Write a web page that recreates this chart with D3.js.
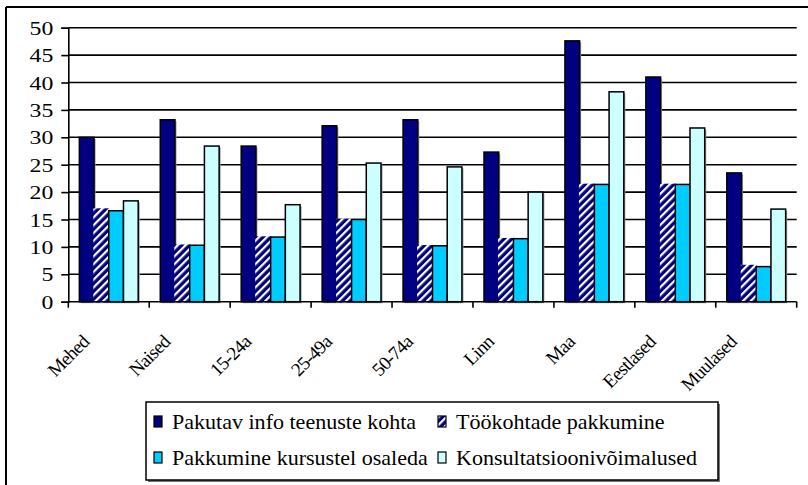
<!doctype html>
<html>
<head>
<meta charset="utf-8">
<title>Teenused</title>
<script src="https://d3js.org/d3.v7.min.js"></script>
<style>
body { margin: 0; background: white; }
svg { display: block; }
svg text { font-family: "Liberation Serif", "DejaVu Serif", serif; }
</style>
</head>
<body>
<div id="chart"></div>
<script>
// data
var categories = ["Mehed", "Naised", "15-24a", "25-49a", "50-74a", "Linn", "Maa", "Eestlased", "Muulased"];
var seriesNames = ["Pakutav info teenuste kohta", "Töökohtade pakkumine", "Pakkumine kursustel osaleda", "Konsultatsioonivõimalused"];
var infoValues = [30.0, 33.2, 28.4, 32.1, 33.2, 27.3, 47.6, 41.0, 23.5];
var tooValues = [16.9, 10.3, 11.8, 15.0, 10.2, 11.5, 21.4, 21.4, 6.6];
var kursusValues = [16.6, 10.3, 11.8, 15.0, 10.2, 11.5, 21.4, 21.4, 6.4];
var konsultValues = [18.4, 28.4, 17.7, 25.3, 24.6, 20.0, 38.3, 31.7, 16.9];
var yTicks = [0, 5, 10, 15, 20, 25, 30, 35, 40, 45, 50];

var seriesValues = [infoValues, tooValues, kursusValues, konsultValues];
var seriesFill = ["#000080", "url(#hatch)", "#00ccff", "#ccffff"];

var W = 808, H = 485;
var margin = {left: 68.3, right: 11.3, top: 27.7, bottom: 183.3};

var svg = d3.select("#chart").append("svg")
  .attr("width", W)
  .attr("height", H);

var defs = svg.append("defs");
var hatch = defs.append("pattern")
  .attr("id", "hatch")
  .attr("patternUnits", "userSpaceOnUse")
  .attr("width", 5.5)
  .attr("height", 5.5)
  .attr("patternTransform", "rotate(45)");
hatch.append("rect").attr("width", 5.5).attr("height", 5.5).attr("fill", "#000080");
hatch.append("rect").attr("width", 2.2).attr("height", 5.5).attr("fill", "#ffffff");

// outer frame (only top and left are inside the picture)
svg.append("line").attr("x1", 6).attr("x2", W).attr("y1", 7).attr("y2", 7)
  .attr("stroke", "#000").attr("stroke-width", 2);
svg.append("line").attr("x1", 6).attr("x2", 6).attr("y1", 7).attr("y2", H)
  .attr("stroke", "#000").attr("stroke-width", 2);

var x = d3.scaleBand()
  .domain(categories)
  .range([margin.left, W - margin.right]);

var x1 = d3.scaleBand()
  .domain(d3.range(seriesNames.length))
  .range([0, x.bandwidth()])
  .paddingOuter(0.75);

var y = d3.scaleLinear()
  .domain([0, 50])
  .range([H - margin.bottom, margin.top]);

// gridlines
svg.append("g").selectAll("line")
  .data(yTicks.slice(1))
  .join("line")
  .attr("x1", margin.left)
  .attr("x2", W - margin.right)
  .attr("y1", function(d) { return y(d); })
  .attr("y2", function(d) { return y(d); })
  .attr("stroke", "#000")
  .attr("stroke-width", 1.6);

// bars
var groups = svg.append("g").selectAll("g")
  .data(categories)
  .join("g")
  .attr("transform", function(d) { return "translate(" + x(d) + ",0)"; });

groups.selectAll("rect.shadow")
  .data(function(d, i) { return seriesValues.map(function(s, k) { return {k: k, v: s[i]}; }); })
  .join("rect")
  .attr("class", "shadow")
  .attr("x", function(d) { return x1(d.k) + 1.5; })
  .attr("y", function(d) { return y(d.v) + 1.5; })
  .attr("width", x1.bandwidth())
  .attr("height", function(d) { return y(0) - y(d.v); })
  .attr("fill", "#999");

groups.selectAll("rect.bar")
  .data(function(d, i) { return seriesValues.map(function(s, k) { return {k: k, v: s[i]}; }); })
  .join("rect")
  .attr("class", "bar")
  .attr("x", function(d) { return x1(d.k); })
  .attr("y", function(d) { return y(d.v); })
  .attr("width", x1.bandwidth())
  .attr("height", function(d) { return y(0) - y(d.v); })
  .attr("fill", function(d) { return seriesFill[d.k]; })
  .attr("stroke", function(d) { return d.k == 1 ? "url(#hatch)" : "#000"; })
  .attr("stroke-width", 1.5);

// y axis
var yAxis = svg.append("g")
  .attr("transform", "translate(" + margin.left + ",0)")
  .call(d3.axisLeft(y).tickValues(yTicks).tickSize(7).tickPadding(0).tickFormat(d3.format("d")));
yAxis.attr("font-family", null);
yAxis.select(".domain").attr("stroke", "#000").attr("stroke-width", 1.6);
yAxis.selectAll(".tick line").attr("stroke", "#000").attr("stroke-width", 1.6);
yAxis.selectAll(".tick text")
  .attr("x", 0)
  .attr("dy", "0.35em")
  .attr("font-size", "19px")
  .attr("fill", "#000")
  .attr("transform", "translate(-15,0) scale(1.25,1)");

// x axis
var bounds = categories.map(function(c) { return x(c); }).concat([W - margin.right]);
svg.append("line")
  .attr("x1", margin.left).attr("x2", W - margin.right)
  .attr("y1", y(0)).attr("y2", y(0))
  .attr("stroke", "#000").attr("stroke-width", 1.6);
svg.append("g").selectAll("line")
  .data(bounds)
  .join("line")
  .attr("x1", function(d) { return d; })
  .attr("x2", function(d) { return d; })
  .attr("y1", y(0))
  .attr("y2", y(0) + 6)
  .attr("stroke", "#000")
  .attr("stroke-width", 1.6);

svg.append("g").selectAll("text")
  .data(categories)
  .join("text")
  .attr("transform", function(d) {
    return "translate(" + (x(d) + x.bandwidth() / 2 - 18.5) + "," + 343 + ") rotate(-45)";
  })
  .attr("text-anchor", "end")
  .attr("font-size", "19px")
  .attr("letter-spacing", "-0.7px")
  .text(function(d) { return d; });

// legend
var legend = svg.append("g");
legend.append("rect")
  .attr("x", 148).attr("y", 404).attr("width", 572).attr("height", 78)
  .attr("fill", "#777");
legend.append("rect")
  .attr("x", 146).attr("y", 402).attr("width", 572).attr("height", 78)
  .attr("fill", "#fff").attr("stroke", "#000").attr("stroke-width", 1.5);

var legendPos = [[154, 416], [438, 416], [154, 452], [438, 452]];
var item = legend.selectAll("g.item")
  .data(seriesNames)
  .join("g")
  .attr("class", "item")
  .attr("transform", function(d, i) { return "translate(" + legendPos[i][0] + "," + legendPos[i][1] + ")"; });
item.append("rect")
  .attr("width", 8).attr("height", 11)
  .attr("fill", function(d, i) { return seriesFill[i]; })
  .attr("stroke", "#000").attr("stroke-width", 1.2);
item.append("text")
  .attr("transform", "translate(18,12.5) scale(1.05,1)")
  .attr("font-size", "21px")
  .text(function(d) { return d; });
</script>
</body>
</html>
